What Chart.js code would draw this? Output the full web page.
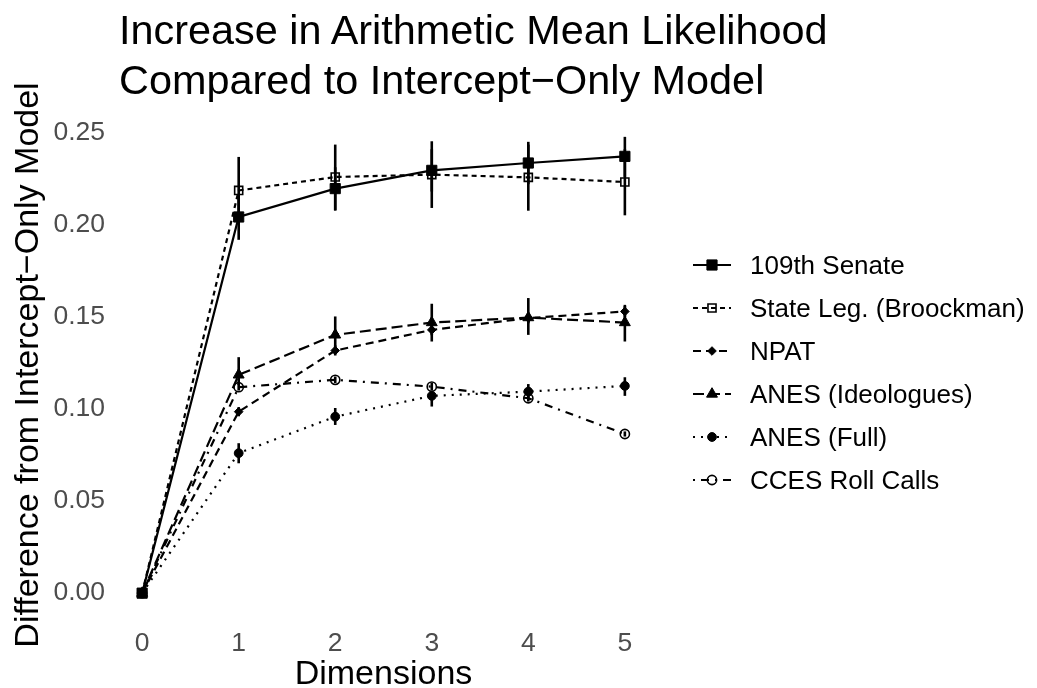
<!DOCTYPE html>
<html>
<head>
<meta charset="utf-8">
<script src="https://cdn.jsdelivr.net/npm/chart.js@4/dist/chart.umd.min.js"></script>
<style>
  body { margin: 0; background: #fff; }
  #wrap { position: relative; width: 1037px; height: 688px; font-family: 'Liberation Sans', Arial, sans-serif; }
  #titulo { position: absolute; left: 119px; top: 6px; font-size: 41.4px; line-height: 49.5px; color: #000; white-space: nowrap; }
  #legenda { position: absolute; left: 693px; top: 243px; }
  .item { display: flex; align-items: center; height: 43px; }
  .item canvas { display: block; }
  .item span { margin-left: 19px; font-size: 26px; line-height: 30px; color: #000; white-space: nowrap; }
</style>
</head>
<body>
<div id="wrap">
  <canvas id="grafico"></canvas>
  <div id="titulo">Increase in Arithmetic Mean Likelihood<br>Compared to Intercept&minus;Only Model</div>
  <div id="legenda"></div>
</div>
<script>
// dados
const dims = [0, 1, 2, 3, 4, 5];
const yTicks = [0, 0.05, 0.10, 0.15, 0.20, 0.25];

const seriesNames = ['109th Senate', 'State Leg. (Broockman)', 'NPAT', 'ANES (Ideologues)', 'ANES (Full)', 'CCES Roll Calls'];

const senate      = [0, 0.2042, 0.2196, 0.2295, 0.2335, 0.2371];
const senateLo    = [0, 0.1918, 0.2080, 0.2180, 0.2220, 0.2260];
const senateHi    = [0, 0.2166, 0.2312, 0.2410, 0.2450, 0.2477];

const stateLeg    = [0, 0.2186, 0.2259, 0.2272, 0.2257, 0.2232];
const stateLegLo  = [0, 0.2006, 0.2076, 0.2091, 0.2076, 0.2051];
const stateLegHi  = [0, 0.2368, 0.2435, 0.2453, 0.2435, 0.2410];

const npat        = [0, 0.0985, 0.1317, 0.1429, 0.1493, 0.1529];
const npatLo      = [0, 0.0960, 0.1290, 0.1400, 0.1465, 0.1500];
const npatHi      = [0, 0.1010, 0.1345, 0.1458, 0.1520, 0.1558];

const anesIdeo    = [0, 0.1185, 0.1402, 0.1469, 0.1496, 0.1469];
const anesIdeoLo  = [0, 0.1130, 0.1321, 0.1366, 0.1402, 0.1366];
const anesIdeoHi  = [0, 0.1281, 0.1502, 0.1571, 0.1602, 0.1565];

const anesFull    = [0, 0.0760, 0.0958, 0.1071, 0.1094, 0.1125];
const anesFullLo  = [0, 0.0705, 0.0913, 0.1013, 0.1050, 0.1071];
const anesFullHi  = [0, 0.0814, 0.1005, 0.1094, 0.1135, 0.1172];

const cces        = [0, 0.1118, 0.1158, 0.1121, 0.1058, 0.0864];
const ccesLo      = [0, 0.1100, 0.1140, 0.1100, 0.1040, 0.0850];
const ccesHi      = [0, 0.1136, 0.1176, 0.1142, 0.1076, 0.0878];

const fonte = "'Liberation Sans', Arial, sans-serif";

function pontos(valores) {
    return dims.map((d, i) => ({ x: d, y: valores[i] }));
}

function serie(nome, valores, lo, hi, estilo) {
    return Object.assign({
        label: nome,
        data: pontos(valores),
        lower: lo,
        upper: hi,
        borderColor: '#000',
        borderWidth: 2.2,
        fill: false,
        tension: 0,
        pointBorderColor: '#000',
        pointHoverRadius: 0
    }, estilo);
}

const datasets = [
    serie(seriesNames[0], senate, senateLo, senateHi,
        { borderDash: [], pointStyle: 'rect', pointRadius: 7.2, pointBackgroundColor: '#000', pointBorderWidth: 1 }),
    serie(seriesNames[1], stateLeg, stateLegLo, stateLegHi,
        { borderDash: [5, 4], pointStyle: 'rect', pointRadius: 5.7, pointBackgroundColor: 'rgba(0,0,0,0)', pointBorderWidth: 1.6 }),
    serie(seriesNames[2], npat, npatLo, npatHi,
        { borderDash: [8, 5], pointStyle: 'rectRot', pointRadius: 4.3, pointBackgroundColor: '#000', pointBorderWidth: 1 }),
    serie(seriesNames[3], anesIdeo, anesIdeoLo, anesIdeoHi,
        { borderDash: [11, 5], pointStyle: 'triangle', pointRadius: 6.3, pointBackgroundColor: '#000', pointBorderWidth: 1 }),
    serie(seriesNames[4], anesFull, anesFullLo, anesFullHi,
        { borderDash: [2, 6], pointStyle: 'circle', pointRadius: 4.4, pointBackgroundColor: '#000', pointBorderWidth: 1 }),
    serie(seriesNames[5], cces, ccesLo, ccesHi,
        { borderDash: [2, 6, 8, 6], pointStyle: 'circle', pointRadius: 4.6, pointBackgroundColor: 'rgba(0,0,0,0)', pointBorderWidth: 1.6 })
];

// chave da legenda: linha tracejada + marcador
function chaveLegenda(ds) {
    const c = document.createElement('canvas');
    c.width = 38;
    c.height = 20;
    const g = c.getContext('2d');
    g.strokeStyle = '#000';
    g.lineWidth = 2.2;
    g.setLineDash(ds.borderDash);
    g.beginPath();
    g.moveTo(0, 10);
    g.lineTo(38, 10);
    g.stroke();
    g.setLineDash([]);
    g.fillStyle = ds.pointBackgroundColor;
    g.lineWidth = ds.pointBorderWidth;
    Chart.helpers.drawPoint(g, {
        pointStyle: ds.pointStyle,
        radius: ds.pointRadius,
        rotation: 0,
        borderWidth: ds.pointBorderWidth
    }, 19, 10);
    return c;
}

const legenda = document.getElementById('legenda');
datasets.forEach(ds => {
    const linha = document.createElement('div');
    linha.className = 'item';
    linha.appendChild(chaveLegenda(ds));
    const txt = document.createElement('span');
    txt.textContent = ds.label;
    linha.appendChild(txt);
    legenda.appendChild(linha);
});

// barras de erro verticais
const barrasErro = {
    id: 'barrasErro',
    afterDatasetsDraw(chart) {
        const { ctx, scales: { x, y } } = chart;
        ctx.save();
        ctx.strokeStyle = '#000';
        ctx.lineWidth = 2.6;
        chart.data.datasets.forEach(ds => {
            ds.lower.forEach((lo, j) => {
                const hi = ds.upper[j];
                if (lo === hi) return;
                const px = x.getPixelForValue(dims[j]);
                ctx.beginPath();
                ctx.moveTo(px, y.getPixelForValue(lo));
                ctx.lineTo(px, y.getPixelForValue(hi));
                ctx.stroke();
            });
        });
        ctx.restore();
    }
};

new Chart(document.getElementById('grafico'), {
    type: 'line',
    data: { datasets: datasets },
    plugins: [barrasErro],
    options: {
        animation: false,
        responsive: true,
        maintainAspectRatio: false,
        layout: { padding: { left: 0, right: 388, top: 114, bottom: 0 } },
        scales: {
            x: {
                type: 'linear',
                min: -0.25,
                max: 5.25,
                grid: { display: false },
                border: { display: false },
                afterBuildTicks: s => { s.ticks = dims.map(v => ({ value: v })); },
                afterFit: s => { s.height = 72; },
                ticks: {
                    padding: 4,
                    color: '#4D4D4D',
                    font: { family: fonte, size: 26.5 },
                    callback: v => String(v)
                },
                title: {
                    display: true,
                    text: 'Dimensions',
                    color: '#000',
                    font: { family: fonte, size: 34, lineHeight: 0.8 },
                    padding: { top: 0, bottom: 0 }
                }
            },
            y: {
                min: -0.0124,
                max: 0.2601,
                grid: { display: false },
                border: { display: false },
                afterBuildTicks: s => { s.ticks = yTicks.map(v => ({ value: v })); },
                afterFit: s => { s.width = 118; },
                ticks: {
                    padding: 5,
                    color: '#4D4D4D',
                    font: { family: fonte, size: 26.5 },
                    callback: v => Number(v).toFixed(2)
                },
                title: {
                    display: true,
                    text: 'Difference from Intercept\u2212Only Model',
                    color: '#000',
                    font: { family: fonte, size: 34, lineHeight: 1.2 },
                    padding: { top: 8, bottom: 0 }
                }
            }
        },
        plugins: {
            legend: { display: false },
            title: { display: false },
            tooltip: { enabled: false }
        }
    }
});
</script>
</body>
</html>
